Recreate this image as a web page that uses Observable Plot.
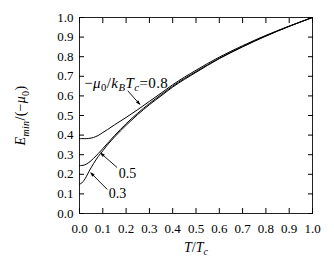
<!DOCTYPE html>
<html><head><meta charset="utf-8">
<script src="https://cdn.jsdelivr.net/npm/d3@7"></script>
<script src="https://cdn.jsdelivr.net/npm/@observablehq/plot@0.6"></script>
<style>
body{margin:0;background:#fff}
.arr path{fill:#000 !important;}
</style>
</head><body><div id="chart"></div>
<script>
// Data
const T    = [0, 0.01, 0.02, 0.03, 0.04, 0.05, 0.06, 0.08, 0.10, 0.12, 0.15, 0.20, 0.25, 0.30, 0.35, 0.40, 0.50, 0.60, 0.70, 0.80, 0.90, 1.00];
const E_03 = [0.150, 0.156, 0.170, 0.190, 0.213, 0.234, 0.254, 0.290, 0.320, 0.350, 0.390, 0.450, 0.505, 0.555, 0.600, 0.645, 0.720, 0.790, 0.850, 0.905, 0.955, 1.000];
const E_05 = [0.245, 0.245, 0.247, 0.252, 0.260, 0.270, 0.281, 0.305, 0.331, 0.358, 0.397, 0.458, 0.512, 0.561, 0.606, 0.650, 0.724, 0.792, 0.852, 0.906, 0.955, 1.000];
const E_08 = [0.382, 0.382, 0.382, 0.382, 0.383, 0.385, 0.388, 0.398, 0.413, 0.428, 0.452, 0.490, 0.530, 0.572, 0.614, 0.657, 0.731, 0.798, 0.856, 0.909, 0.956, 1.000];
const seriesKeys = ["0.3", "0.5", "0.8"];
const tickValues = [0, 0.1, 0.2, 0.3, 0.4, 0.5, 0.6, 0.7, 0.8, 0.9, 1.0];
const tickLabels = ["0.0", "0.1", "0.2", "0.3", "0.4", "0.5", "0.6", "0.7", "0.8", "0.9", "1.0"];
const labelTexts = ["LBL08", "0.5", "0.3"];

const seriesValues = [E_03, E_05, E_08];
const rows = seriesKeys.flatMap((k, s) => T.map((t, i) => ({T: t, E: seriesValues[s][i], k})));

// annotation placement (data coordinates)
const annotations = [
  {text: labelTexts[0], x: 0.020, y: 0.665, x1: 0.208, y1: 0.625, x2: 0.258, y2: 0.558},
  {text: labelTexts[1], x: 0.168, y: 0.202, x1: 0.160, y1: 0.236, x2: 0.092, y2: 0.307},
  {text: labelTexts[2], x: 0.126, y: 0.100, x1: 0.118, y1: 0.124, x2: 0.049, y2: 0.207}
];

const FONT = "'Liberation Serif', serif";
const plot = Plot.plot({
  width: 334, height: 260,
  marginLeft: 79, marginRight: 22, marginTop: 17, marginBottom: 47,
  style: {fontFamily: FONT, fontSize: "13px", background: "#fff", color: "#000", overflow: "visible"},
  x: {domain: [0, 1]},
  y: {domain: [0, 1]},
  marks: [
    Plot.frame({stroke: "#222", strokeWidth: 1}),
    Plot.axisX({anchor: "bottom", ticks: tickValues, tickSize: 0, tickPadding: 10, tickFormat: (d) => tickLabels[tickValues.indexOf(d)], label: "XLBL", labelAnchor: "center", labelOffset: 38, labelArrow: "none"}),
    Plot.axisX({anchor: "bottom", ticks: tickValues, tickSize: -5, tickFormat: () => "", label: null}),
    Plot.axisX({anchor: "top", ticks: tickValues, tickSize: -5, tickFormat: () => "", label: null}),
    Plot.axisY({anchor: "left", ticks: tickValues, tickSize: 0, tickPadding: 6, tickFormat: (d) => tickLabels[tickValues.indexOf(d)], label: "YLBL", labelAnchor: "center", labelOffset: 64, labelArrow: "none"}),
    Plot.axisY({anchor: "left", ticks: tickValues, tickSize: -5, tickFormat: () => "", label: null}),
    Plot.axisY({anchor: "right", ticks: tickValues, tickSize: -5, tickFormat: () => "", label: null}),
    Plot.line(rows, {x: "T", y: "E", z: "k", stroke: "#000", strokeWidth: 1, curve: "monotone-x"}),
    Plot.arrow(annotations, {x1: "x1", y1: "y1", x2: "x2", y2: "y2", stroke: "#000", strokeWidth: 0.9, headLength: 6, headAngle: 36, className: "arr"}),
    Plot.text(annotations, {x: "x", y: "y", text: "text", textAnchor: "start", fill: "#000", fontSize: 14})
  ]
});
document.getElementById("chart").appendChild(plot);

// Rich text (italic, subscripts) for math labels
const NS = "http://www.w3.org/2000/svg";
function rich(el, parts, size, spacing) {
  while (el.firstChild) el.removeChild(el.firstChild);
  el.setAttribute("font-size", size + "px");
  if (spacing) el.setAttribute("letter-spacing", spacing + "px");
  let shift = 0;
  for (const p of parts) {
    const ts = document.createElementNS(NS, "tspan");
    ts.textContent = p.t;
    if (p.i) ts.setAttribute("font-style", "italic");
    const target = p.sub ? 3.2 : 0;
    if (target !== shift) { ts.setAttribute("dy", (target - shift) + "px"); shift = target; }
    if (p.sub) ts.setAttribute("font-size", (size * 0.72) + "px");
    el.appendChild(ts);
  }
}
const richMap = {
  "XLBL": [[{t: "T", i: 1}, {t: "/"}, {t: "T", i: 1}, {t: "c", i: 1, sub: 1}], 14, 0],
  "YLBL": [[{t: "E", i: 1}, {t: "min", i: 1, sub: 1}, {t: "/(−"}, {t: "μ", i: 1}, {t: "0", sub: 1}, {t: ")"}], 14, 0.3],
  "LBL08": [[{t: "−"}, {t: "μ", i: 1}, {t: "0", sub: 1}, {t: "/"}, {t: "k", i: 1}, {t: "B", i: 1, sub: 1}, {t: "T", i: 1}, {t: "c", i: 1, sub: 1}, {t: "=0.8"}], 15, 0.4]
};
plot.querySelectorAll("text").forEach(el => {
  const s = el.textContent.trim();
  for (const key in richMap) if (s.startsWith(key) || s.endsWith(key) || s === key) { const r = richMap[key]; rich(el, r[0], r[1], r[2]); break; }
});
</script>
</body></html>
